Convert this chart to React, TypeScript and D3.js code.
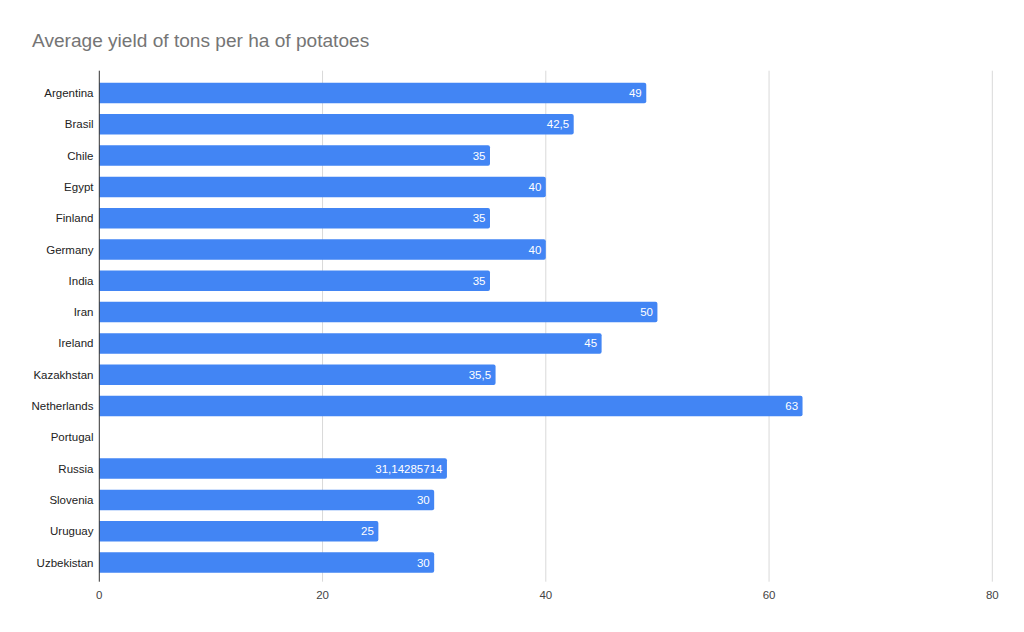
import React from "react";
import * as d3 from "d3";

const categories = ["Argentina","Brasil","Chile","Egypt","Finland","Germany","India","Iran","Ireland","Kazakhstan","Netherlands","Portugal","Russia","Slovenia","Uruguay","Uzbekistan"];
const values: (number | null)[] = [49, 42.5, 35, 40, 35, 40, 35, 50, 45, 35.5, 63, null, 31.14285714, 30, 25, 30];
const ticks = [0, 20, 40, 60, 80];
const title = "Average yield of tons per ha of potatoes";

const W = 1024, H = 632;
const plot = { left: 99.3, right: 992.3, top: 70.7, bottom: 581.7 };

export default function App() {
  const x = d3.scaleLinear().domain([0, 80]).range([plot.left, plot.right]);
  const y = d3.scaleBand<string>().domain(categories).range([77.35, 578.15]).paddingInner(0.345).paddingOuter(0.1725);
  const fmt = (v: number) => String(v).replace(".", ",");
  const font = "'Liberation Sans', Arial, sans-serif";
  const fs = 11.5;
  const r = 2;
  return (
    <svg width={W} height={H} style={{ position: "absolute", left: 0, top: 0, background: "#fff" }} fontFamily={font}>
      <rect x={0} y={0} width={W} height={H} fill="#fff" />
      <text x={32} y={47} fontSize={19.1} fill="#757575">{title}</text>
      {ticks.filter(t => t > 0).map(t => (
        <line key={t} x1={x(t)} x2={x(t)} y1={plot.top} y2={plot.bottom} stroke="#d9d9d9" strokeWidth={1} />
      ))}
      {categories.map((c, i) => {
        const v = values[i];
        const by = y(c)!;
        const bh = y.bandwidth();
        const cy = by + bh / 2;
        return (
          <g key={c}>
            <text x={93.5} y={cy} dy="0.35em" textAnchor="end" fontSize={fs} fill="#222">{c}</text>
            {v != null && (
              <>
                <path
                  d={`M${x(0)},${by} H${x(v) - r} Q${x(v)},${by} ${x(v)},${by + r} V${by + bh - r} Q${x(v)},${by + bh} ${x(v) - r},${by + bh} H${x(0)} Z`}
                  fill="#4285F4"
                />
                <text x={x(v) - 4.5} y={cy} dy="0.35em" textAnchor="end" fontSize={fs} fill="#fff">{fmt(v)}</text>
              </>
            )}
          </g>
        );
      })}
      <line x1={x(0)} x2={x(0)} y1={plot.top} y2={plot.bottom} stroke="#333" strokeWidth={1} />
      {ticks.map(t => (
        <text key={t} x={x(t)} y={599} textAnchor="middle" fontSize={fs} fill="#444">{t}</text>
      ))}
    </svg>
  );
}
